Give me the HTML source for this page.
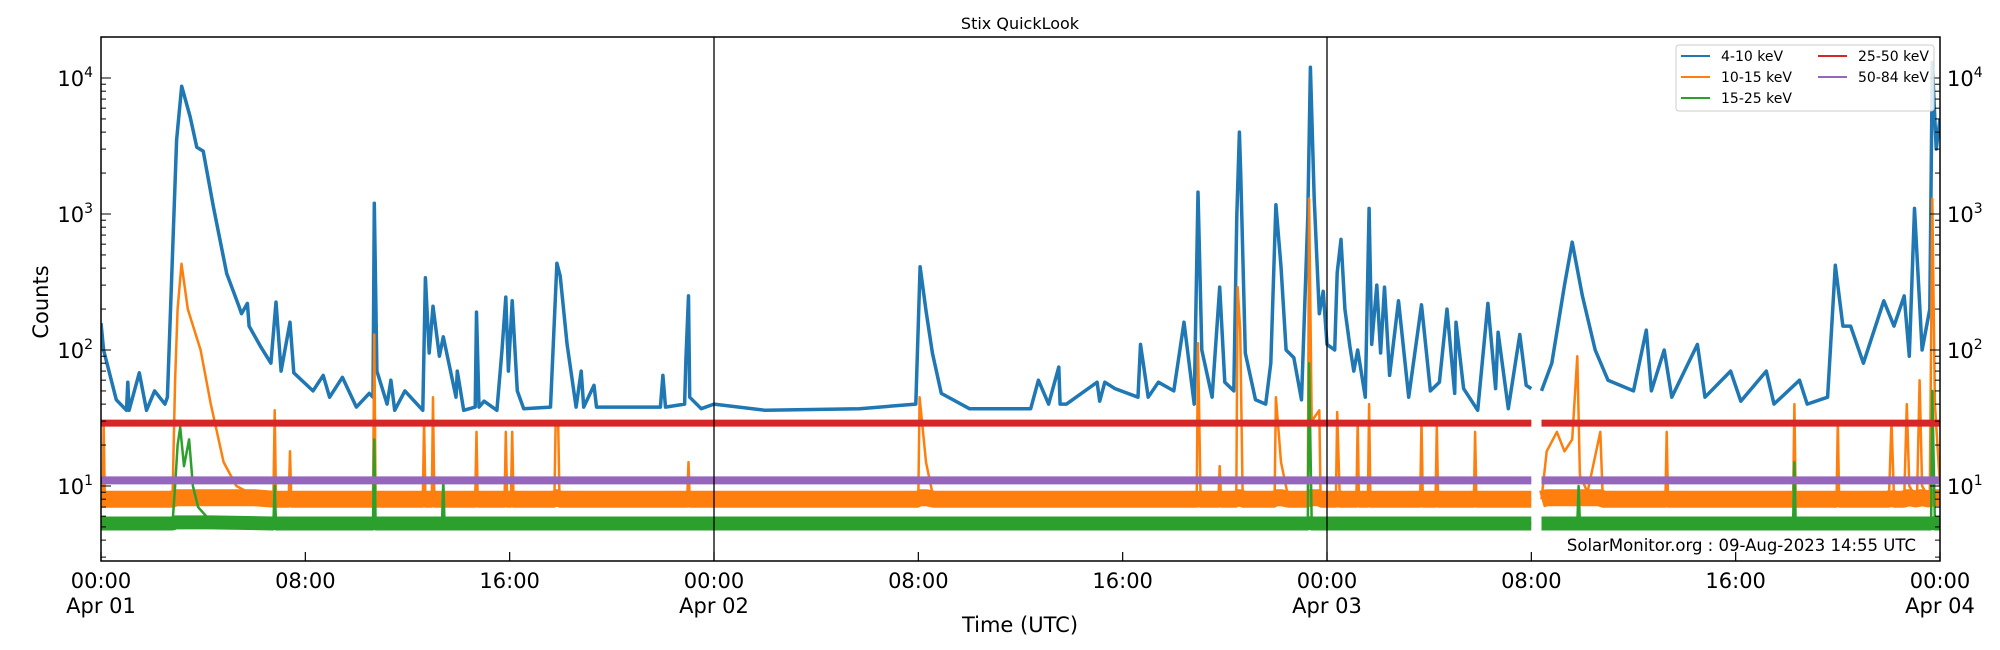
<!DOCTYPE html>
<html><head><meta charset="utf-8"><style>
body{margin:0;background:#fff}
svg{display:block;font-family:"DejaVu Sans","Liberation Sans",sans-serif}
</style></head><body>
<svg id="chart" width="2000" height="650" viewBox="0 0 2000 650" xmlns="http://www.w3.org/2000/svg">
<text x="1020" y="29" font-size="16" text-anchor="middle">Stix QuickLook</text>
<g id="plot"></g>
<text x="48" y="302" font-size="21" text-anchor="middle" transform="rotate(-90 48 302)">Counts</text>
<text x="1020" y="632" font-size="21" text-anchor="middle">Time (UTC)</text>
<text x="1916" y="551" font-size="16.5" text-anchor="end">SolarMonitor.org : 09-Aug-2023 14:55 UTC</text>
<g>
<rect x="1676" y="45" width="258" height="66" rx="3" fill="#fff" fill-opacity="0.85" stroke="#ccc"/>
<line x1="1681" y1="56" x2="1710" y2="56" stroke="#1f77b4" stroke-width="2"/><text x="1721" y="61" font-size="14">4-10 keV</text>
<line x1="1681" y1="77" x2="1710" y2="77" stroke="#ff7f0e" stroke-width="2"/><text x="1721" y="82" font-size="14">10-15 keV</text>
<line x1="1681" y1="98" x2="1710" y2="98" stroke="#2ca02c" stroke-width="2"/><text x="1721" y="103" font-size="14">15-25 keV</text>
<line x1="1818" y1="56" x2="1847" y2="56" stroke="#d62728" stroke-width="2"/><text x="1858" y="61" font-size="14">25-50 keV</text>
<line x1="1818" y1="77" x2="1847" y2="77" stroke="#9467bd" stroke-width="2"/><text x="1858" y="82" font-size="14">50-84 keV</text>
</g>
</svg>
<script>
// data: [hours since Apr 01 00:00, counts]; null = data gap
const blue = [[0,158],[0.1,100],[0.6,43],[1.0,36],[1.05,58],[1.1,36],[1.5,68],[1.78,36],[2.1,50],[2.5,40],[2.6,45],[2.96,3500],[3.16,8700],[3.49,5200],[3.75,3100],[4.0,2900],[4.4,1130],[4.92,365],[5.4,210],[5.5,185],[5.73,220],[5.8,150],[6.26,105],[6.65,80],[6.85,225],[7.05,70],[7.4,160],[7.55,68],[8.3,50],[8.7,65],[8.95,45],[9.45,63],[10.0,38],[10.5,48],[10.65,45],[10.7,1200],[10.8,70],[11.2,40],[11.35,60],[11.5,36],[11.9,50],[12.6,36],[12.7,340],[12.85,95],[13.0,210],[13.25,90],[13.4,125],[13.9,45],[13.95,70],[14.2,36],[14.65,38],[14.7,190],[14.8,38],[15.0,42],[15.5,36],[15.7,100],[15.85,245],[15.95,70],[16.1,230],[16.3,50],[16.55,37],[17.6,38],[17.85,435],[17.98,350],[18.25,110],[18.6,38],[18.8,70],[18.9,38],[19.3,55],[19.4,38],[21.9,38],[22.0,65],[22.1,38],[22.85,40],[22.9,85],[23.0,250],[23.05,45],[23.5,37],[24.0,40],[26,36],[29.7,37],[31.9,40],[32.07,410],[32.3,195],[32.55,95],[32.9,48],[34.0,37],[36.4,37],[36.7,60],[37.1,40],[37.5,75],[37.55,40],[37.8,40],[39.0,58],[39.1,42],[39.3,58],[39.7,52],[40.6,45],[40.7,110],[41.0,45],[41.4,58],[42.0,50],[42.4,160],[42.8,40],[42.95,1450],[43.1,100],[43.5,45],[43.8,290],[44.0,58],[44.35,50],[44.47,970],[44.57,4000],[44.62,2000],[44.8,95],[45.2,43],[45.6,40],[45.8,80],[46.0,1170],[46.2,410],[46.4,100],[46.7,88],[47.0,43],[47.25,960],[47.35,12000],[47.5,1300],[47.7,185],[47.85,270],[48.0,110],[48.3,100],[48.4,370],[48.55,650],[48.7,200],[48.9,105],[49.05,70],[49.2,100],[49.5,45],[49.65,1100],[49.75,110],[49.95,300],[50.1,95],[50.25,290],[50.45,65],[50.8,230],[51.2,45],[51.7,215],[52.05,50],[52.4,58],[52.7,200],[53.0,48],[53.05,160],[53.35,52],[53.9,36],[54.3,220],[54.6,52],[54.7,135],[55.1,37],[55.55,130],[55.8,55],[56.0,52],null,[56.4,50],[56.8,80],[57.3,300],[57.6,620],[58.0,250],[58.5,100],[59.0,60],[60.0,50],[60.5,140],[60.7,50],[61.2,100],[61.5,45],[62.5,110],[62.8,45],[63.8,70],[64.2,42],[65.2,70],[65.5,40],[66.5,60],[66.8,40],[67.6,45],[67.9,420],[68.2,150],[68.5,150],[69.0,80],[69.8,230],[70.2,150],[70.6,250],[70.8,90],[71.0,1100],[71.3,100],[71.6,200],[71.7,13000],[71.85,3000],[72.0,5000]];
const orange = [[0,8],[0.08,8],[0.1,30],[0.15,8],[2.8,8],[2.9,60],[3.0,200],[3.15,430],[3.4,200],[3.9,100],[4.3,40],[4.8,15],[5.3,10],[6.0,8.5],[6.75,8],[6.8,36],[6.85,8],[7.35,8],[7.4,18],[7.45,8],[10.65,8],[10.7,130],[10.75,8],[12.6,8],[12.65,30],[12.7,8],[12.95,8],[13.0,45],[13.05,8],[14.65,8],[14.7,25],[14.75,8],[15.8,8],[15.85,25],[15.9,8],[16.05,8],[16.1,25],[16.15,8],[17.75,8],[17.8,28],[17.9,28],[17.95,8],[22.95,8],[23.0,15],[23.05,8],[32.0,8],[32.05,45],[32.3,15],[32.6,8],[42.9,8],[42.95,112],[43.05,8],[43.75,8],[43.8,14],[43.85,8],[44.45,8],[44.5,290],[44.6,140],[44.7,8],[45.95,8],[46.0,45],[46.2,15],[46.5,8],[47.25,8],[47.3,1300],[47.4,30],[47.7,36],[47.75,8],[48.35,8],[48.4,35],[48.5,8],[49.15,8],[49.2,30],[49.25,8],[49.6,8],[49.65,40],[49.7,8],[51.65,8],[51.7,30],[51.75,8],[52.25,8],[52.3,28],[52.35,8],[53.75,8],[53.8,25],[53.85,8],[56.0,8],null,[56.4,8],[56.6,18],[57.0,25],[57.3,18],[57.6,22],[57.8,90],[57.9,12],[58.2,9],[58.7,25],[58.8,8],[61.25,8],[61.3,25],[61.35,8],[66.25,8],[66.3,40],[66.35,8],[67.95,8],[68.0,30],[68.05,8],[70.0,8],[70.1,30],[70.2,8],[70.6,8],[70.7,40],[70.8,10],[71.1,8],[71.2,60],[71.3,10],[71.6,8],[71.7,1300],[71.8,40],[72.0,10]];
const green = [[0,5.3],[2.8,5.3],[2.9,10],[3.0,20],[3.1,27],[3.25,14],[3.45,22],[3.6,10],[3.8,7],[4.3,5.5],[6.75,5.3],[6.8,10],[6.85,5.3],[10.65,5.3],[10.7,22],[10.75,5.3],[13.35,5.3],[13.4,11],[13.45,5.3],[47.25,5.3],[47.3,80],[47.4,5.3],[56.0,5.3],null,[56.4,5.3],[57.8,5.3],[57.85,10],[57.9,5.3],[66.25,5.3],[66.3,15],[66.35,5.3],[71.65,5.3],[71.7,50],[71.8,5.3],[72.0,5.3]];
const red = [[0,29],[3.1,30],[3.3,29],[56.0,29],null,[56.4,29],[72.0,29]];
const purple = [[0,11],[56.0,11],null,[56.4,11],[72.0,11]];
const bases = {orange:8.2, green:5.4, red:29, purple:11};
const xTickHours = [0,8,16,24,32,40,48,56,64,72];
const xTickLabels = ["00:00\nApr 01","08:00","16:00","00:00\nApr 02","08:00","16:00","00:00\nApr 03","08:00","16:00","00:00\nApr 04"];
const yDecades = [1,2,3,4];
const dayLines = [24,48];

const L=101,R=1940,T=37,B=561;
const xS=h=>L+(R-L)*h/72;
const Y4=78, DEC=136;
const yS=v=>Y4+(4-Math.log10(v))*DEC;
const NS="http://www.w3.org/2000/svg";
const plot=document.getElementById('plot');
function mk(tag,attrs,parent){const e=document.createElementNS(NS,tag);for(const k in attrs)e.setAttribute(k,attrs[k]);(parent||plot).appendChild(e);return e;}
const clip=mk('clipPath',{id:'pc'});mk('rect',{x:L,y:T,width:R-L,height:B-T},clip);
const g=mk('g',{'clip-path':'url(#pc)'});
function pathOf(data,clampTo){let d='',pen=false;for(const p of data){if(!p){pen=false;continue;}let v=p[1];if(clampTo)v=Math.min(v,clampTo);d+=(pen?'L':'M')+xS(p[0]).toFixed(1)+' '+yS(v).toFixed(1);pen=true;}return d;}
function series(name,data,color,base,band,thin){
  if(band){const b=mk('path',{d:pathOf(data,base),fill:'none',stroke:color,'stroke-width':band,'stroke-linejoin':'bevel','stroke-linecap':'butt'},g);
  
  }
  const p=mk('path',{d:pathOf(data),fill:'none',stroke:color,'stroke-width':thin,'stroke-linejoin':'round'},g);
  
  
}
series('series-4-10kev',blue,'#1f77b4',0,0,3.5);
series('series-10-15kev',orange,'#ff7f0e',bases.orange,17,2.5);
series('series-15-25kev',green,'#2ca02c',bases.green,14,2.5);
series('series-25-50kev',red,'#d62728',bases.red,7,2.5);
series('series-50-84kev',purple,'#9467bd',bases.purple,8,2.5);
for(const h of dayLines){const l=mk('line',{x1:xS(h),x2:xS(h),y1:T,y2:B,stroke:'#000','stroke-width':1.3});

}
const fr=mk('rect',{x:L,y:T,width:R-L,height:B-T,fill:'none',stroke:'#000','stroke-width':1.5});


xTickHours.forEach((h,i)=>{const x=xS(h);mk('line',{x1:x,x2:x,y1:B,y2:B-9,stroke:'#000','stroke-width':1.2});
 const lines=xTickLabels[i].split('\n');
 const t=mk('text',{x:x,y:B+27,'font-size':21,'text-anchor':'middle'});
 
 
 lines.forEach((s,j)=>{const ts=mk('tspan',{x:x,dy:j?25:0},t);ts.textContent=s;});});
const yMin=Math.pow(10,(4-(B-Y4)/DEC)), yMax=Math.pow(10,4+(Y4-T)/DEC);
for(let e=0;e<=4;e++)for(let m=1;m<10;m++){const v=m*Math.pow(10,e);if(v<yMin||v>yMax)continue;const y=yS(v);const len=m===1?10:5;
 mk('line',{x1:L,x2:L+len,y1:y,y2:y,stroke:'#000','stroke-width':1});mk('line',{x1:R,x2:R-len,y1:y,y2:y,stroke:'#000','stroke-width':1});}
yDecades.forEach(e=>{const y=yS(Math.pow(10,e));
 const a=mk('text',{x:L-8,y:y+8,'font-size':21,'text-anchor':'end'});
 a.appendChild(document.createTextNode('10'));const s=mk('tspan',{dy:-9,'font-size':14},a);s.textContent=e;
 const b=mk('text',{x:R+7,y:y+8,'font-size':21,'text-anchor':'start'});
 b.appendChild(document.createTextNode('10'));const s2=mk('tspan',{dy:-9,'font-size':14},b);s2.textContent=e;});
</script>
</body></html>
